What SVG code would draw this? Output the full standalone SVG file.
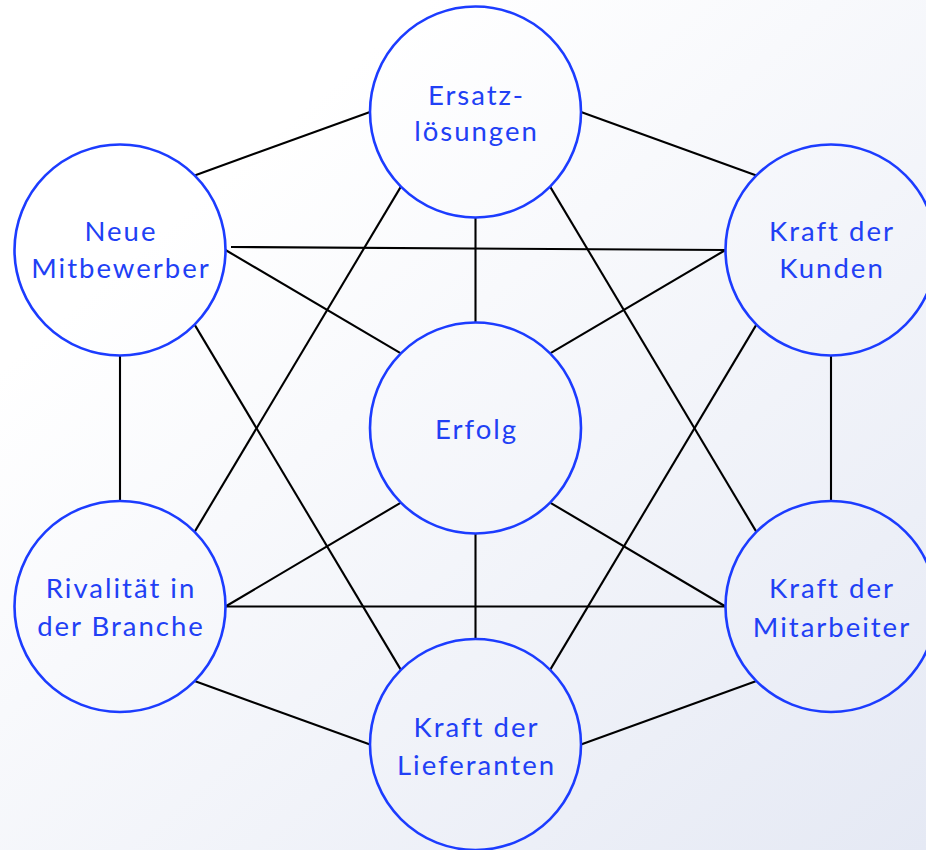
<svg xmlns="http://www.w3.org/2000/svg" width="926" height="850" viewBox="0 0 926 850">
<defs>
<linearGradient id="bg" x1="0.25" y1="0.2" x2="1" y2="1">
<stop offset="0" stop-color="#ffffff"/>
<stop offset="1" stop-color="#e5e9f4"/>
</linearGradient>
</defs>
<style>
.node circle{fill:none;stroke:#1c3cff;stroke-width:2.6}
.node text{font-family:"Lato","Noto Sans",sans-serif;font-size:27.5px;fill:#2140f5;text-anchor:middle;letter-spacing:2px}
#connectors line{stroke:#000;stroke-width:2.1}
</style>
<rect width="926" height="850" fill="url(#bg)"/>
<g id="connectors">
<line x1="194.6" y1="175.4" x2="370" y2="112"/>
<line x1="581" y1="112" x2="756.4" y2="175.4"/>
<line x1="231" y1="247" x2="725.5" y2="250"/>
<line x1="225.5" y1="250" x2="400.9" y2="353.4"/>
<line x1="725.5" y1="250" x2="550.1" y2="353.4"/>
<line x1="475.5" y1="217.5" x2="475.5" y2="322.5"/>
<line x1="400.9" y1="186.6" x2="194.6" y2="531.9"/>
<line x1="550.1" y1="186.6" x2="756.4" y2="531.9"/>
<line x1="194.6" y1="324.6" x2="400.9" y2="669.9"/>
<line x1="756.4" y1="324.6" x2="550.1" y2="669.9"/>
<line x1="120" y1="355.5" x2="120" y2="501"/>
<line x1="831" y1="355.5" x2="831" y2="501"/>
<line x1="225.5" y1="606.5" x2="725.5" y2="606.5"/>
<line x1="225.5" y1="606.5" x2="400.9" y2="502.6"/>
<line x1="725.5" y1="606.5" x2="550.1" y2="502.6"/>
<line x1="475.5" y1="533.5" x2="475.5" y2="639"/>
<line x1="194.6" y1="681.1" x2="370" y2="744.5"/>
<line x1="756.4" y1="681.1" x2="581" y2="744.5"/>
</g>
<g id="ersatz" class="node">
<circle cx="475.5" cy="112" r="105.5"/>
<text x="476.5" y="105">Ersatz-</text>
<text x="476.5" y="141">lösungen</text>
</g>
<g id="neue" class="node">
<circle cx="120" cy="250" r="105.5"/>
<text x="121" y="241">Neue</text>
<text x="121" y="278">Mitbewerber</text>
</g>
<g id="kunden" class="node">
<circle cx="831" cy="250" r="105.5"/>
<text x="832" y="241">Kraft der</text>
<text x="832" y="278">Kunden</text>
</g>
<g id="erfolg" class="node">
<circle cx="475.5" cy="428" r="105.5"/>
<text x="476.5" y="439">Erfolg</text>
</g>
<g id="rivalitaet" class="node">
<circle cx="120" cy="606.5" r="105.5"/>
<text x="121" y="598">Rivalität in</text>
<text x="121" y="636">der Branche</text>
</g>
<g id="mitarbeiter" class="node">
<circle cx="831" cy="606.5" r="105.5"/>
<text x="832" y="598">Kraft der</text>
<text x="832" y="637">Mitarbeiter</text>
</g>
<g id="lieferanten" class="node">
<circle cx="475.5" cy="744.5" r="105.5"/>
<text x="476.5" y="737">Kraft der</text>
<text x="476.5" y="775">Lieferanten</text>
</g>
</svg>
